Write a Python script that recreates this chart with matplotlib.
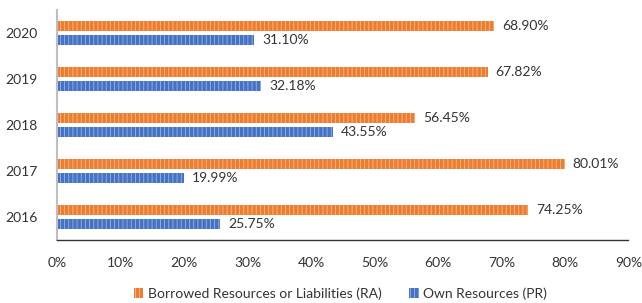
import matplotlib
matplotlib.use("Agg")
import matplotlib.pyplot as plt
import numpy as np

years = ["2016", "2017", "2018", "2019", "2020"]
borrowed = [74.25, 80.01, 56.45, 67.82, 68.90]
own = [25.75, 19.99, 43.55, 32.18, 31.10]
xticks = [0, 10, 20, 30, 40, 50, 60, 70, 80, 90]

plt.rcParams['font.family'] = ['Lato', 'DejaVu Sans']
plt.rcParams['hatch.linewidth'] = 0.6

fig = plt.figure(figsize=(6.42, 3.03), dpi=100)
ax = fig.add_axes([0.0888, 0.208, 0.890, 0.759])

y = np.arange(len(years))
h = 0.22
off = 0.15
orange = "#ED7D31"
blue = "#4472C4"

ax.barh(y + off, borrowed, height=h, color=orange, edgecolor="#F7B98A",
        hatch="||||", linewidth=0, label="Borrowed Resources or Liabilities (RA)")
ax.barh(y - off, own, height=h, color=blue, edgecolor="#9DB3E0",
        hatch="||||", linewidth=0, label="Own Resources (PR)")

for yi, v in zip(y, borrowed):
    ax.text(v + 1.2, yi + off, f"{v:.2f}%", va="center", ha="left", fontsize=10, color="#333333")
for yi, v in zip(y, own):
    ax.text(v + 1.2, yi - off, f"{v:.2f}%", va="center", ha="left", fontsize=10, color="#333333")

ax.set_xlim(0, 90)
ax.set_ylim(-0.5, len(years) - 0.5)
ax.set_xticks(xticks)
ax.set_xticklabels([f"{t}%" for t in xticks], fontsize=10, color="#333333")
ax.set_yticks(y)
ax.set_yticklabels(years, fontsize=10, color="#333333")
ax.tick_params(axis="both", length=0, pad=12)
ax.tick_params(axis="y", pad=14)

for s in ["top", "right"]:
    ax.spines[s].set_visible(False)
ax.spines["left"].set_color("#BFBFBF")
ax.spines["left"].set_linewidth(1.5)
ax.spines["bottom"].set_color("#333333")
ax.spines["bottom"].set_linewidth(1.0)

handles, labels = ax.get_legend_handles_labels()
fig.legend(handles, labels, loc="center", bbox_to_anchor=(0.53, 0.03), ncol=2,
           frameon=False, fontsize=10, handlelength=0.7, handleheight=0.7,
           handletextpad=0.3, columnspacing=2.0, labelcolor="#333333")

fig.savefig("out.png", dpi=100)
